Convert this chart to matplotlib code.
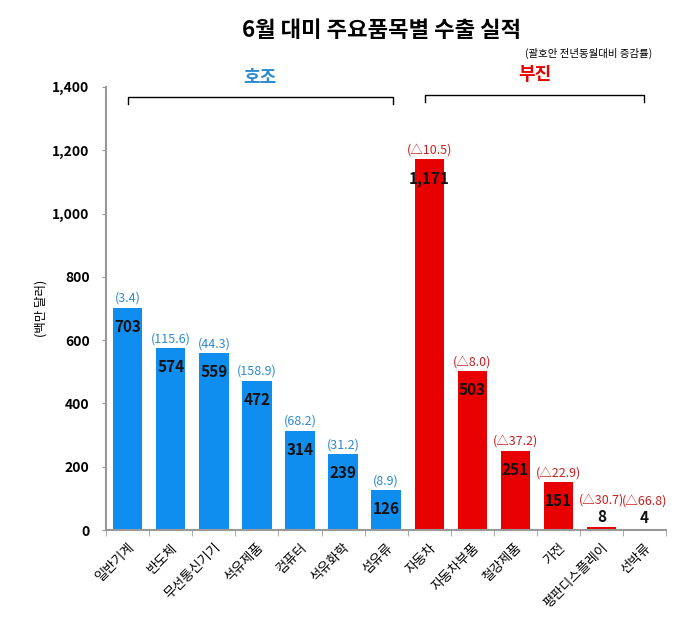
import matplotlib
matplotlib.use("Agg")
import matplotlib.pyplot as plt
from matplotlib.ticker import FuncFormatter, FixedLocator

plt.rcParams['font.family'] = ['Noto Sans CJK KR', 'DejaVu Sans']

items = ['일반기계', '반도체', '무선통신기기', '석유제품', '컴퓨터', '석유화학', '섬유류',
         '자동차', '자동차부품', '철강제품', '가전', '평판디스플레이', '선박류']
exports = [703, 574, 559, 472, 314, 239, 126, 1171, 503, 251, 151, 8, 4]
growth = ['(3.4)', '(115.6)', '(44.3)', '(158.9)', '(68.2)', '(31.2)', '(8.9)',
          '(△10.5)', '(△8.0)', '(△37.2)', '(△22.9)', '(△30.7)', '(△66.8)']
n_good = 7  # first 7 items are 호조, rest 부진

BLUE = '#108EF0'
RED = '#E80000'
BLUE_TXT = '#2C8AD0'
RED_TXT = '#C82020'

fig = plt.figure(figsize=(6.81, 6.21), dpi=100)
ax = fig.add_axes([0.156, 0.1465, 0.822, 0.7135])

x = list(range(len(items)))
colors = [BLUE if i < n_good else RED for i in x]
ax.bar(x, exports, width=0.68, color=colors, zorder=2)

for i, v in enumerate(exports):
    gc = BLUE_TXT if i < n_good else RED_TXT
    if v > 50:
        ax.annotate(format(v, ','), (i, v), xytext=(0, -8), textcoords='offset points',
                    ha='center', va='top', fontsize=11, fontweight='bold', color='#111111')
        ax.annotate(growth[i], (i, v), xytext=(0, 2), textcoords='offset points',
                    ha='center', va='bottom', fontsize=9, color=gc)
    else:
        ax.annotate(format(v, ','), (i, v), xytext=(0, 2), textcoords='offset points',
                    ha='center', va='bottom', fontsize=11, fontweight='bold', color='#111111')
        ax.annotate(growth[i], (i, v), xytext=(0, 15), textcoords='offset points',
                    ha='center', va='bottom', fontsize=9, color=gc)

ax.set_xlim(-0.5, len(items) - 0.5)
ax.set_ylim(0, 1400)
ax.yaxis.set_major_locator(FixedLocator(range(0, 1401, 200)))
ax.yaxis.set_major_formatter(FuncFormatter(lambda v, p: format(int(v), ',')))
for lab in ax.get_yticklabels():
    lab.set_fontweight('bold')
    lab.set_fontsize(10)
ax.tick_params(axis='y', length=3, color='#999999', pad=9)

ax.set_xticks(x)
ax.set_xticklabels(items, rotation=45, ha='right', rotation_mode='anchor', fontsize=9.5)
ax.set_xticks([i + 0.5 for i in range(-1, len(items))], minor=True)
ax.tick_params(axis='x', which='major', length=0, pad=8)
ax.tick_params(axis='x', which='minor', length=4, color='#999999')

for s in ['top', 'right']:
    ax.spines[s].set_visible(False)
ax.spines['left'].set_color('#999999')
ax.spines['bottom'].set_color('#999999')
ax.spines['left'].set_linewidth(1.5)
ax.spines['bottom'].set_linewidth(1.5)

ax.set_ylabel('(백만 달러)', fontsize=9)
ax.yaxis.set_label_coords(-0.105, 0.5)

# group brackets
def bracket(x0, x1, y, label, color):
    ax.plot([x0, x0, x1, x1], [y - 22, y, y, y - 22], color='black', lw=1, clip_on=False)
    ax.text((x0 + x1) / 2, y + 65, label, ha='center', va='center', fontsize=13,
            fontweight='bold', color=color, clip_on=False)

bracket(0, 6.15, 1368, '호조', BLUE_TXT)
bracket(6.9, 12, 1373, '부진', RED)

fig.text(0.56, 0.951, '6월 대미 주요품목별 수출 실적', ha='center', va='center',
         fontsize=16, fontweight='bold')
fig.text(0.958, 0.914, '(괄호안 전년동월대비 증감률)', ha='right', va='center', fontsize=7.5)

fig.savefig('out.png', dpi=100)
